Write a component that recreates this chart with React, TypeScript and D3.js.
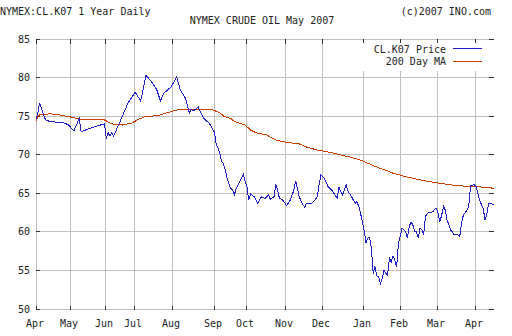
import React from "react";
import * as d3 from "d3";

const W = 512;
const H = 336;

const yTicks = [50, 55, 60, 65, 70, 75, 80, 85];
const monthLabels = ["Apr", "May", "Jun", "Jul", "Aug", "Sep", "Oct", "Nov", "Dec", "Jan", "Feb", "Mar", "Apr"];
const monthTickDays = [0, 19.25, 38.4, 54.5, 75.6, 98.9, 116.9, 138.3, 158.8, 181.5, 202, 222.8, 243.5];

const priceDays = [
  0, 1, 2, 3, 5, 6, 9, 12, 16, 18, 21, 24, 25, 31, 35, 38, 39, 40, 41, 42, 43, 47, 51, 55, 58, 59, 61, 64, 67, 69,
  71, 75, 78, 80, 83, 84, 85, 86, 87, 88, 90, 91, 93, 96, 98, 99, 100, 101, 102, 103, 104, 105, 106, 108, 109, 110,
  111, 113, 115, 116, 117, 118, 119, 121, 123, 125, 127, 129, 130, 132, 133, 134, 135, 137, 139, 141, 143, 144, 145,
  146, 148, 149, 150, 152, 154, 156, 157, 158, 160, 162, 164, 167, 168, 169, 170, 172, 173, 175, 177, 178, 179, 180,
  181, 182, 183, 184, 185, 186, 187, 188, 189, 190, 191, 192, 193, 194, 195, 196, 197, 198, 199, 200, 201, 202, 203,
  204, 205, 206, 207, 208, 209, 210, 211, 212, 213, 214, 215, 216, 217, 220, 221, 222, 223, 224, 225, 226, 227, 228,
  229, 230, 231, 232, 234, 235, 236, 237, 239, 240, 241, 243, 244, 245, 246, 248, 249, 250, 251, 252, 253, 254,
];
const priceValues = [
  74.7, 75.35, 76.7, 76.0, 74.7, 74.4, 74.3, 74.2, 74.1, 73.85, 73.1, 74.7, 73.0, 73.5, 73.8, 74.0, 72.1, 72.85, 72.4,
  72.85, 72.4, 74.5, 76.7, 78.1, 77.0, 78.0, 80.3, 79.5, 78.4, 77.0, 78.0, 78.8, 80.1, 78.4, 77.3, 76.4, 75.4, 75.9,
  75.7, 75.8, 76.2, 75.6, 74.7, 74.1, 73.3, 72.9, 71.3, 70.8, 70.1, 69.1, 68.8, 68.0, 66.9, 65.6, 65.5, 64.8, 65.6,
  66.5, 67.5, 66.5, 65.85, 64.1, 64.9, 64.55, 63.7, 64.55, 64.3, 64.8, 64.2, 64.55, 66.2, 65.4, 64.35, 64.1, 63.4,
  64.1, 65.4, 66.6, 65.6, 64.55, 63.5, 63.2, 63.7, 63.6, 63.9, 64.55, 66.1, 67.4, 66.9, 65.85, 65.4, 64.35, 65.85,
  65.2, 64.8, 66.1, 65.3, 64.55, 63.7, 63.9, 63.3, 62.4, 61.3, 60.2, 58.5, 59.2, 59.3, 57.9, 54.6, 55.5, 54.3, 54.2,
  53.3, 54.0, 55.0, 54.6, 54.4, 56.6, 56.1, 56.9, 56.3, 55.5, 58.5, 59.4, 60.5, 60.3, 60.0, 59.2, 60.7, 61.3, 60.9,
  60.0, 60.0, 59.2, 60.5, 60.25, 59.6, 62.0, 62.4, 62.6, 62.9, 63.05, 62.4, 61.3, 62.2, 63.3, 62.8, 61.5, 60.9, 60.2,
  60.0, 59.6, 59.6, 59.4, 61.1, 62.2, 62.8, 63.3, 66.0, 66.1, 65.9, 65.0, 64.1, 63.05, 61.6, 62.2, 63.7, 63.7, 63.6,
  63.6,
];

const maDays = [
  0, 1, 2, 8, 12, 20, 24, 38, 42, 48, 53, 57, 60, 68, 75, 80, 88, 98, 102, 104, 108, 110, 116, 119, 122, 128, 133,
  139, 146, 150, 156, 161, 165, 170, 174, 180, 185, 190, 194, 198, 206, 215, 224, 233, 243, 248, 254,
];
const maValues = [
  74.4, 74.9, 75.2, 75.3, 75.2, 74.85, 74.6, 74.5, 74.0, 73.85, 74.1, 74.6, 74.9, 75.1, 75.6, 75.9, 75.9, 75.8, 75.45,
  75.0, 74.7, 74.3, 73.85, 73.2, 72.85, 72.55, 71.9, 71.6, 71.4, 71.0, 70.6, 70.4, 70.2, 69.9, 69.7, 69.3, 68.8, 68.3,
  68.0, 67.6, 67.1, 66.65, 66.3, 66.0, 65.85, 65.8, 65.65,
];

const titleLeft = "NYMEX:CL.K07 1 Year Daily";
const titleCenter = "NYMEX CRUDE OIL May 2007";
const titleRight = "(c)2007 INO.com";
const legendNames = ["CL.K07 Price", "200 Day MA"];

const BLUE = "#2020c8";
const ORANGE = "#c84000";
const GRID = "#c0c0c0";
const TICK = "#333333";
const TEXT = "#222222";
const FONT = "'DejaVu Sans Mono', monospace";

export default function App() {
  const x = d3.scaleLinear().domain([0, 254]).range([36, 494]);
  const y = d3.scaleLinear().domain([50, 85]).range([309, 39]);
  const px = (v: number) => Math.floor(x(v)) + 0.5;
  const py = (v: number) => Math.floor(y(v)) + 0.5;
  const left = 36.5;
  const right = 488.5;
  const top = py(85);
  const bottom = py(50);

  const line = d3
    .line<[number, number]>()
    .x((d) => x(d[0]))
    .y((d) => y(d[1]));

  const pricePts: [number, number][] = priceDays.map((d, i) => [d, priceValues[i]]);
  const maPts: [number, number][] = maDays.map((d, i) => [d, maValues[i]]);

  return (
    <svg
      width={W}
      height={H}
      viewBox={`0 0 ${W} ${H}`}
      style={{ position: "absolute", left: 0, top: 0, display: "block", background: "#fff" }}
    >
      <rect x={0} y={0} width={W} height={H} fill="#fff" />
      <g fontFamily={FONT} fontSize={10} fill={TEXT}>
        <text x={0} y={15}>{titleLeft}</text>
        <text x={262} y={24} textAnchor="middle">{titleCenter}</text>
        <text x={491} y={15} textAnchor="end">{titleRight}</text>
      </g>
      <g shapeRendering="crispEdges" stroke={GRID} strokeWidth={1}>
        {yTicks.map((t) => (
          <line key={"h" + t} x1={left} x2={right} y1={py(t)} y2={py(t)} />
        ))}
        {monthTickDays.map((d, i) => (
          <line key={"v" + i} x1={px(d)} x2={px(d)} y1={top} y2={bottom} />
        ))}
      </g>
      <g shapeRendering="crispEdges" stroke={TICK} strokeWidth={1}>
        {yTicks.map((t) => (
          <g key={"t" + t}>
            <line x1={36} x2={40} y1={py(t)} y2={py(t)} />
            <line x1={489} x2={494} y1={py(t)} y2={py(t)} />
          </g>
        ))}
        {monthTickDays.map((d, i) => (
          <g key={"mt" + i}>
            <line x1={px(d)} x2={px(d)} y1={top - 0.5} y2={top + 4} />
            <line x1={px(d)} x2={px(d)} y1={bottom - 4} y2={bottom + 0.5} />
          </g>
        ))}
      </g>
      <g fontFamily={FONT} fontSize={10} fill={TEXT}>
        {yTicks.map((t) => (
          <text key={"yl" + t} x={30} y={py(t) + 3.5} textAnchor="end">
            {t}
          </text>
        ))}
        {monthTickDays.map((d, i) => (
          <text key={"xl" + i} x={px(d) - 1.5} y={327} textAnchor="middle">
            {monthLabels[i]}
          </text>
        ))}
      </g>
      <path d={line(maPts) || ""} fill="none" stroke={ORANGE} strokeWidth={1} shapeRendering="crispEdges" />
      <path d={line(pricePts) || ""} fill="none" stroke={BLUE} strokeWidth={1} shapeRendering="crispEdges" />
      <rect x={361} y={43} width={128} height={28} fill="#fff" />
      <g fontFamily={FONT} fontSize={10} fill={TEXT}>
        <text x={446} y={53} textAnchor="end">{legendNames[0]}</text>
        <text x={446} y={65} textAnchor="end">{legendNames[1]}</text>
      </g>
      <g shapeRendering="crispEdges" strokeWidth={1}>
        <line x1={453} x2={482} y1={48.5} y2={48.5} stroke={BLUE} />
        <line x1={453} x2={482} y1={61.5} y2={61.5} stroke={ORANGE} />
      </g>
    </svg>
  );
}
